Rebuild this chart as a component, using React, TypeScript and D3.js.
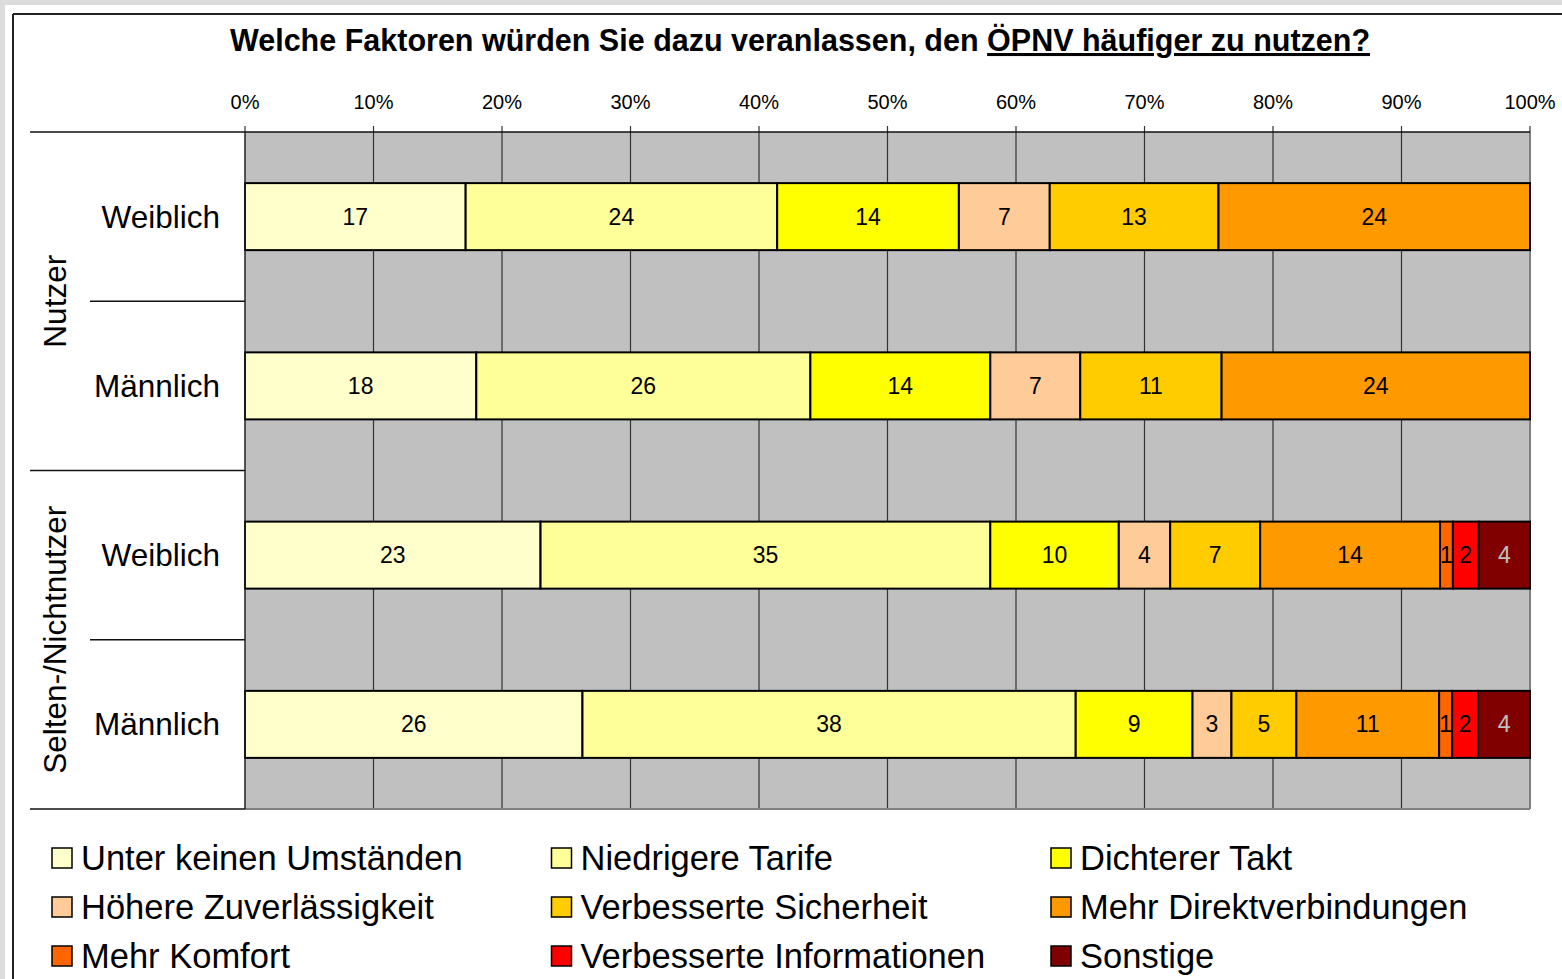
import React from 'react';
import * as d3 from 'd3';

const groups = ['Nutzer', 'Selten-/Nichtnutzer'];
const rows = ['Nutzer Weiblich', 'Nutzer Männlich', 'Selten Weiblich', 'Selten Männlich'];
const rowLabels = ['Weiblich', 'Männlich', 'Weiblich', 'Männlich'];
const series = [
  'Unter keinen Umständen',
  'Niedrigere Tarife',
  'Dichterer Takt',
  'Höhere Zuverlässigkeit',
  'Verbesserte Sicherheit',
  'Mehr Direktverbindungen',
  'Mehr Komfort',
  'Verbesserte Informationen',
  'Sonstige',
];
const colors = ['#FFFFCC', '#FFFF99', '#FFFF00', '#FFCC99', '#FFCC00', '#FF9900', '#FF6600', '#FF0000', '#800000'];

// Werte je Zeile, Reihenfolge wie series
const nutzerWeiblich = [17, 24, 14, 7, 13, 24, 0, 0, 0];
const nutzerMaennlich = [18, 26, 14, 7, 11, 24, 0, 0, 0];
const seltenWeiblich = [23, 35, 10, 4, 7, 14, 1, 2, 4];
const seltenMaennlich = [26, 38, 9, 3, 5, 11, 1, 2, 4];
const values = [nutzerWeiblich, nutzerMaennlich, seltenWeiblich, seltenMaennlich];

const ticks = [0, 0.1, 0.2, 0.3, 0.4, 0.5, 0.6, 0.7, 0.8, 0.9, 1];

const font = '"Liberation Sans", Arial, sans-serif';

export default function App() {
  const W = 1562;
  const H = 979;
  const left = 245;
  const right = 1530;
  const top = 132;
  const bottom = 809;

  const x = d3.scaleLinear().domain([0, 1]).range([left, right]);
  const y = d3.scaleBand().domain(rows).range([top, bottom]).paddingInner(0.604).paddingOuter(0.302);
  const step = y.step();

  const table = rows.map((r, i) => {
    const o: any = { row: r };
    series.forEach((s, j) => (o[s] = values[i][j]));
    return o;
  });
  const stacked = d3.stack<any>().keys(series).offset(d3.stackOffsetExpand)(table);

  const rowTop = (i: number) => (y(rows[i]) as number) - (step - y.bandwidth()) / 2;

  return (
    <svg width={W} height={H} style={{ position: 'absolute', left: 0, top: 0, display: 'block' }} fontFamily={font}>
      <rect x={0} y={0} width={W} height={H} fill="#dcdcdc" />
      <rect x={5} y={5} width={W} height={H} fill="#ffffff" />
      <line x1={13} x2={W} y1={14} y2={14} stroke="#222" strokeWidth={2} />
      <line x1={13} x2={13} y1={14} y2={H} stroke="#222" strokeWidth={2} />

      <text x={800} y={51} textAnchor="middle" fontSize={30.5} fontWeight="bold">
        Welche Faktoren würden Sie dazu veranlassen, den{' '}
        <tspan textDecoration="underline" style={{ textDecoration: 'underline' }}>ÖPNV häufiger zu nutzen?</tspan>
      </text>

      <rect x={left} y={top} width={right - left} height={bottom - top} fill="#c0c0c0" />
      {ticks.map((t) => (
        <g key={t}>
          {t > 0 && t < 1 && <line x1={x(t)} x2={x(t)} y1={top} y2={bottom} stroke="#333" strokeWidth={1.2} />}
          <line x1={x(t)} x2={x(t)} y1={top - 6} y2={top} stroke="#333" strokeWidth={1.2} />
          <text x={x(t)} y={109} textAnchor="middle" fontSize={20}>
            {d3.format('.0%')(t)}
          </text>
        </g>
      ))}
      <line x1={right} x2={right} y1={top} y2={bottom} stroke="#808080" strokeWidth={2} />
      <line x1={left} x2={right} y1={bottom} y2={bottom} stroke="#808080" strokeWidth={2} />

      {stacked.map((s, j) =>
        s.map((d, i) => {
          const v = values[i][j];
          if (!v) return null;
          const x0 = x(d[0]);
          const x1 = x(d[1]);
          const by = y(rows[i]) as number;
          return (
            <g key={`${j}-${i}`}>
              <rect x={x0} y={by} width={x1 - x0} height={y.bandwidth()} fill={colors[j]} stroke="#000" strokeWidth={2} />
              <text
                x={(x0 + x1) / 2}
                y={by + y.bandwidth() / 2 + 8}
                textAnchor="middle"
                fontSize={23}
                fill={j === series.length - 1 ? '#c0c0c0' : '#000'}
              >
                {v}
              </text>
            </g>
          );
        })
      )}

      {/* Achse links */}
      <line x1={left} x2={left} y1={top} y2={bottom} stroke="#222" strokeWidth={1.5} />
      <line x1={30} x2={right} y1={top} y2={top} stroke="#111" strokeWidth={1.5} />
      {rows.map((r, i) => {
        const yy = rowTop(i) + step;
        const full = i % 2 === 1;
        return <line key={r} x1={full ? 30 : 90} x2={left} y1={yy} y2={yy} stroke="#111" strokeWidth={1.5} />;
      })}
      {rows.map((r, i) => (
        <text key={r} x={220} y={(y(r) as number) + y.bandwidth() / 2 + 11} textAnchor="end" fontSize={31.5}>
          {rowLabels[i]}
        </text>
      ))}
      {groups.map((g, k) => {
        const cy = rowTop(k * 2) + step;
        return (
          <text key={g} transform={`translate(66,${cy}) rotate(-90)`} textAnchor="middle" fontSize={31.5}>
            {g}
          </text>
        );
      })}

      {series.map((s, j) => {
        const col = j % 3;
        const row = Math.floor(j / 3);
        const lx = 52 + col * 499.5;
        const ly = 848 + row * 49;
        return (
          <g key={s}>
            <rect x={lx} y={ly} width={20} height={20} fill={colors[j]} stroke="#000" strokeWidth={1.5} />
            <text x={lx + 29} y={ly + 22} fontSize={34.5}>
              {s}
            </text>
          </g>
        );
      })}
    </svg>
  );
}
